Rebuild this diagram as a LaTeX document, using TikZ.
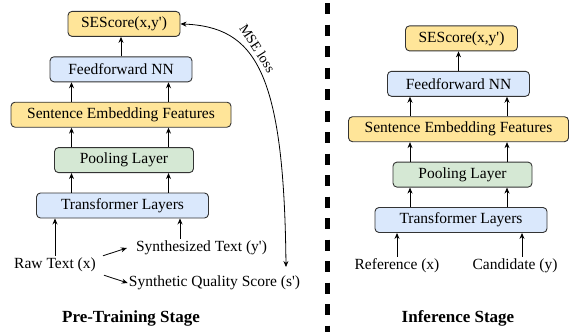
\documentclass[tikz,border=0pt]{standalone}
\usepackage{fontspec}
\setmainfont{Liberation Serif}
\usepackage{xcolor}
\usepackage{tikz}
\usetikzlibrary{positioning,arrows.meta}
\definecolor{featyellow}{HTML}{FFE599}
\definecolor{layerblue}{HTML}{DAE8FC}
\definecolor{poolgreen}{HTML}{D5E8D4}
\definecolor{boxline}{HTML}{333333}
\def\LayerGap{19.5pt}
\def\LeftArr{-51pt}
\def\RightArr{46pt}
\newcommand{\sq}{\textquotesingle}
\tikzset{
	layer/.style={draw=boxline,line width=0.9pt,rounded corners=4pt,minimum height=25pt,inner sep=0pt,font=\fontsize{15.5}{18}\selectfont},
	feat/.style={layer,fill=featyellow},
	blue/.style={layer,fill=layerblue},
	pool/.style={layer,fill=poolgreen},
	txt/.style={inner sep=2pt,font=\fontsize{15.5}{18}\selectfont},
	stage/.style={font=\fontsize{17}{20}\selectfont\bfseries},
	arr/.style={-{Stealth[length=6pt,width=5pt]},line width=0.8pt},
	arrboth/.style={{Stealth[length=6pt,width=5pt]}-{Stealth[length=6pt,width=5pt]},line width=0.8pt},
}

\begin{document}
\begin{tikzpicture}[x=1pt,y=-1pt]
	\useasboundingbox (0,0) rectangle (570,332);
	% pre-training stage
	\node[blue,minimum width=172pt] (ptl) at (122.5,205.5) {Transformer Layers};
	\node[pool,minimum width=139pt,above=\LayerGap of ptl,xshift=1.5pt] (ppool) {Pooling Layer};
	\node[feat,minimum width=220pt,above=\LayerGap of ppool,xshift=-3pt] (pse) {Sentence Embedding Features};
	\node[blue,minimum width=142pt,above=\LayerGap of pse] (pff) {Feedforward NN};
	\node[feat,minimum width=112pt,above=\LayerGap of pff,xshift=3pt] (pses) {SEScore(x,y\sq)};
	% 
	\node[txt] (raw) at (55,265) {Raw Text (x)};
	\node[txt] (syn) at (201.5,248) {Synthesized Text (y\sq)};
	\node[txt] (sqs) at (214.5,283) {Synthetic Quality Score (s\sq)};
	\coordinate (mse) at (286,267);
	\node[rotate=-57,font=\fontsize{14}{16}\selectfont] (loss) at (257.5,48.5) {MSE loss};
	\node[stage] (ptstage) at (131,318) {Pre-Training Stage};
	% 
	\draw[arr] (raw.north) -- (raw.north |- ptl.south);
	\draw[arr] ([xshift=-21.5pt]syn.north) -- ([xshift=-21.5pt]syn.north |- ptl.south);
	\draw[arr] ([xshift=5pt]raw.north east) -- ([xshift=-7pt]syn.west);
	\draw[arr] ([xshift=6pt,yshift=-1pt]raw.south east) -- ([xshift=1pt]sqs.west);
	\draw[arr] ([xshift=\LeftArr]ptl.north) -- ([xshift=\LeftArr]ptl.north |- ppool.south);
	\draw[arr] ([xshift=\RightArr]ptl.north) -- ([xshift=\RightArr]ptl.north |- ppool.south);
	\draw[arr] ([xshift=\LeftArr]ptl.north |- ppool.north) -- ([xshift=\LeftArr]ptl.north |- pse.south);
	\draw[arr] ([xshift=\RightArr]ptl.north |- ppool.north) -- ([xshift=\RightArr]ptl.north |- pse.south);
	\draw[arr] ([xshift=\LeftArr]ptl.north |- pse.north) -- ([xshift=\LeftArr]ptl.north |- pff.south);
	\draw[arr] ([xshift=\RightArr]ptl.north |- pse.north) -- ([xshift=\RightArr]ptl.north |- pff.south);
	\draw[arr] (pff.north) -- (pff.north |- pses.south);
	\draw[arrboth] (pses.east) .. controls (255,27) and (284,70) .. (mse);
	% divider
	\draw[line width=4.5pt,dash pattern=on 11pt off 10.5pt] (327.5,3) -- (327.5,332);
	% inference stage
	\node[blue,minimum width=172pt] (itl) at (461,220) {Transformer Layers};
	\node[pool,minimum width=139pt,above=\LayerGap of itl,xshift=1.5pt] (ipool) {Pooling Layer};
	\node[feat,minimum width=220pt,above=\LayerGap of ipool,xshift=-4pt] (ise) {Sentence Embedding Features};
	\node[blue,minimum width=142pt,above=\LayerGap of ise] (iff) {Feedforward NN};
	\node[feat,minimum width=112pt,above=\LayerGap of iff,xshift=3pt] (ises) {SEScore(x,y\sq)};
	% 
	\node[txt] (ref) at (397,266) {Reference (x)};
	\node[txt] (cand) at (515,266) {Candidate (y)};
	\node[stage] (instage) at (458,318) {Inference Stage};
	% 
	\draw[arr] (ref.north) -- (ref.north |- itl.south);
	\draw[arr] ([xshift=7pt]cand.north) -- ([xshift=7pt]cand.north |- itl.south);
	\draw[arr] ([xshift=\LeftArr]itl.north) -- ([xshift=\LeftArr]itl.north |- ipool.south);
	\draw[arr] ([xshift=\RightArr]itl.north) -- ([xshift=\RightArr]itl.north |- ipool.south);
	\draw[arr] ([xshift=\LeftArr]itl.north |- ipool.north) -- ([xshift=\LeftArr]itl.north |- ise.south);
	\draw[arr] ([xshift=\RightArr]itl.north |- ipool.north) -- ([xshift=\RightArr]itl.north |- ise.south);
	\draw[arr] ([xshift=\LeftArr]itl.north |- ise.north) -- ([xshift=\LeftArr]itl.north |- iff.south);
	\draw[arr] ([xshift=\RightArr]itl.north |- ise.north) -- ([xshift=\RightArr]itl.north |- iff.south);
	\draw[arr] (iff.north) -- (iff.north |- ises.south);
\end{tikzpicture}
\end{document}
